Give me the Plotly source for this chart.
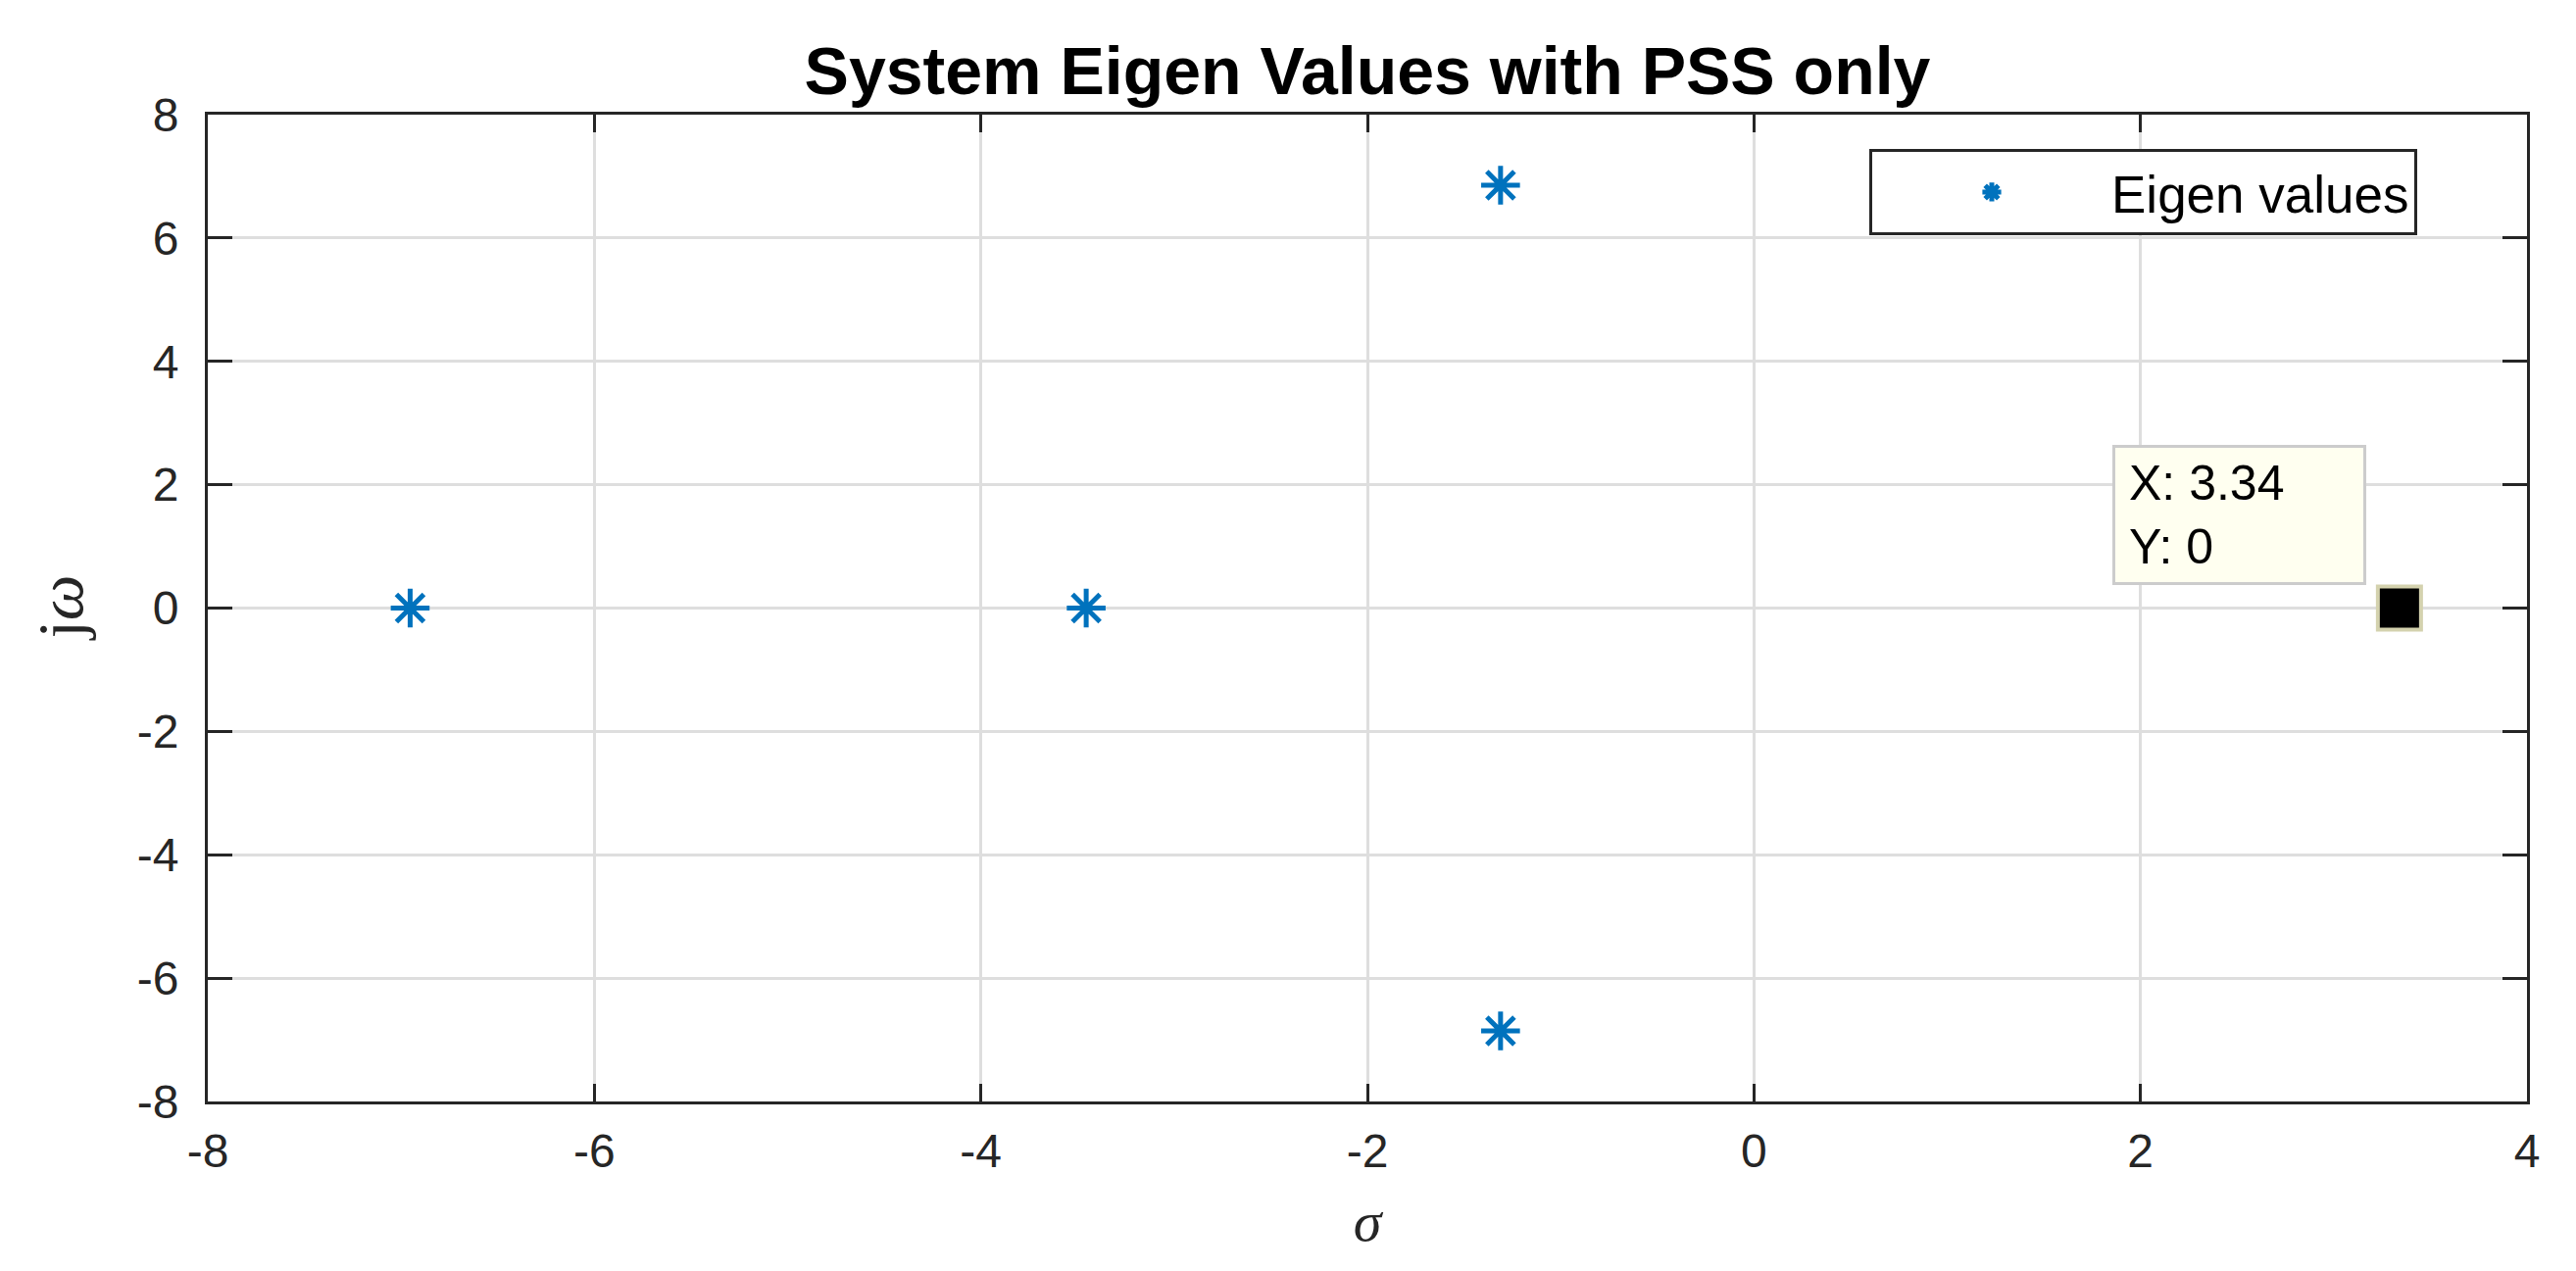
import plotly.graph_objects as go

# Eigenvalue data (real part sigma, imaginary part j*omega)
eig_real = [-6.953, -3.455, -1.311, -1.311]
eig_imag = [0.0, 0.0, 6.855, -6.855]

# Data tip point
tip_x = [3.34]
tip_y = [0.0]

x_tickvals = [-8, -6, -4, -2, 0, 2, 4]
x_ticktext = ["-8", "-6", "-4", "-2", "0", "2", "4"]
y_tickvals = [-8, -6, -4, -2, 0, 2, 4, 6, 8]
y_ticktext = ["-8", "-6", "-4", "-2", "0", "2", "4", "6", "8"]

AX = "#262626"
GRID = "#DEDEDE"
BLUE = "#0072BD"
OFF = 8  # page body margin

fig = go.Figure()
fig.add_trace(go.Scatter(
    x=eig_real, y=eig_imag, mode="markers", name="Eigen values",
    marker=dict(symbol="asterisk-open", size=33, color=BLUE,
                line=dict(color=BLUE, width=5)),
))
fig.add_trace(go.Scatter(
    x=tip_x, y=tip_y, mode="markers", showlegend=False,
    marker=dict(symbol="square", size=44, color="black",
                line=dict(color="#D4D2AE", width=4)),
))

fig.add_annotation(
    xref="paper", yref="paper", x=(2155 - 212) / 2366, y=(1124 - 454) / 1007,
    xanchor="left", yanchor="top", showarrow=False,
    text="X: 3.34<br>Y: 0", align="left", valign="middle",
    font=dict(family="Liberation Sans", size=50, color="black"),
    bgcolor="#FFFFF0", bordercolor="#CCCCCC", borderwidth=3, borderpad=14,
    width=225, height=109,
)

# y-axis label placed as rotated text to the left of the tick labels
fig.add_annotation(
    xref="paper", yref="paper", x=(61 - 212) / 2366, y=0.5,
    xanchor="center", yanchor="middle", showarrow=False, textangle=-90,
    text="j<i>ω</i>",
    font=dict(family="Liberation Serif", size=66, color=AX),
)

axis_common = dict(
    showline=True, linecolor=AX, linewidth=3, mirror="ticks",
    ticks="inside", tickwidth=3, tickcolor=AX,
    showgrid=True, gridcolor=GRID, gridwidth=3, zeroline=False,
    tickfont=dict(family="Liberation Sans", size=48, color=AX),
)

fig.update_xaxes(
    range=[-8, 4], tickvals=x_tickvals, ticktext=x_ticktext, ticklen=18,
    ticklabelstandoff=6,
    title=dict(text="<i>σ</i>", font=dict(family="Liberation Serif", size=58, color=AX),
               standoff=26),
    **axis_common,
)
fig.update_yaxes(
    range=[-8, 8], tickvals=y_tickvals, ticktext=y_ticktext, ticklen=25,
    ticklabelstandoff=17,
    **axis_common,
)

fig.update_layout(
    width=2628, height=1297,
    margin=dict(l=212 - OFF, r=50 + OFF, t=117 - OFF, b=173 + OFF),
    paper_bgcolor="white", plot_bgcolor="white",
    title=dict(text="<b>System Eigen Values with PSS only</b>",
               font=dict(family="Liberation Sans", size=68, color="black"),
               x=0.5, xref="paper", xanchor="center",
               y=1 - (72 - OFF) / 1297, yref="container", yanchor="middle"),
    showlegend=True,
    legend=dict(
        x=(1907 - 212) / 2366, y=(1124 - 152) / 1007, xanchor="left", yanchor="top",
        bgcolor="white", bordercolor=AX, borderwidth=3,
        font=dict(family="Liberation Sans", size=53, color="black"),
        itemwidth=234, itemsizing="trace",
    ),
)

fig.write_html("out.html")
